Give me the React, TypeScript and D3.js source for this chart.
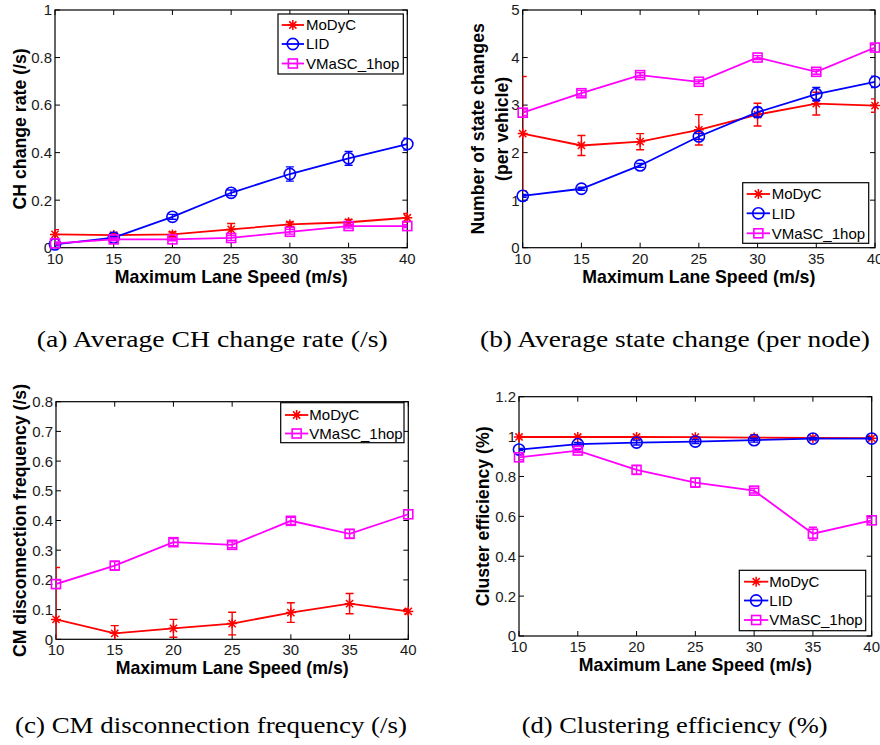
import React from 'react';
import * as d3 from 'd3';

// ---------- data ----------
const SPEEDS = [10, 15, 20, 25, 30, 35, 40];
const X_TICKS = [10, 15, 20, 25, 30, 35, 40];
const SERIES_NAMES = ['MoDyC', 'LID', 'VMaSC_1hop'];

// (a) Average CH change rate (/s)
const A_MODYC = [0.056, 0.053, 0.056, 0.077, 0.098, 0.107, 0.126];
const A_MODYC_ERR = [0.02, 0.01, 0.01, 0.025, 0.01, 0.012, 0.018];
const A_LID = [0.014, 0.042, 0.13, 0.231, 0.31, 0.376, 0.436];
const A_LID_ERR = [0.006, 0.006, 0.01, 0.012, 0.03, 0.029, 0.025];
const A_VMASC = [0.018, 0.035, 0.035, 0.041, 0.067, 0.091, 0.091];
const A_VMASC_ERR = [0.006, 0.006, 0.006, 0.01, 0.01, 0.008, 0.006];
const A_Y_TICKS = [0, 0.2, 0.4, 0.6, 0.8, 1];

// (b) Average state change (per node)
const B_MODYC = [2.4, 2.15, 2.23, 2.48, 2.8, 3.03, 2.99];
const B_MODYC_ERR = [1.2, 0.21, 0.17, 0.32, 0.24, 0.24, 0.14];
const B_LID = [1.09, 1.24, 1.73, 2.34, 2.85, 3.23, 3.49];
const B_LID_ERR = [0.03, 0.03, 0.04, 0.06, 0.1, 0.14, 0.12];
const B_VMASC = [2.84, 3.25, 3.63, 3.49, 4.0, 3.7, 4.21];
const B_VMASC_ERR = [0.06, 0.06, 0.05, 0.04, 0.04, 0.05, 0.06];
const B_Y_TICKS = [0, 1, 2, 3, 4, 5];

// (c) CM disconnection frequency (/s)
const C_MODYC = [0.067, 0.02, 0.037, 0.053, 0.09, 0.12, 0.094];
const C_MODYC_ERR = [0.175, 0.026, 0.03, 0.038, 0.033, 0.034, 0.008];
const C_VMASC = [0.186, 0.248, 0.327, 0.318, 0.399, 0.355, 0.421];
const C_VMASC_ERR = [0.015, 0.014, 0.012, 0.01, 0.012, 0.015, 0.015];
const C_Y_TICKS = [0, 0.1, 0.2, 0.3, 0.4, 0.5, 0.6, 0.7, 0.8];

// (d) Clustering efficiency (%)
const D_MODYC = [0.998, 0.998, 0.998, 0.997, 0.995, 0.993, 0.992];
const D_MODYC_ERR = [0.003, 0.003, 0.003, 0.003, 0.003, 0.003, 0.003];
const D_LID = [0.935, 0.962, 0.97, 0.975, 0.982, 0.99, 0.99];
const D_LID_ERR = [0.005, 0.008, 0.012, 0.01, 0.01, 0.006, 0.005];
const D_VMASC = [0.896, 0.93, 0.833, 0.769, 0.729, 0.513, 0.58];
const D_VMASC_ERR = [0.012, 0.01, 0.022, 0.022, 0.012, 0.032, 0.012];
const D_Y_TICKS = [0, 0.2, 0.4, 0.6, 0.8, 1, 1.2];

const CAPTIONS = [
  '(a) Average CH change rate (/s)',
  '(b) Average state change (per node)',
  '(c) CM disconnection frequency (/s)',
  '(d) Clustering efficiency (%)',
];
const X_LABEL = 'Maximum Lane Speed (m/s)';

// ---------- styles ----------
const RED = '#ff0000';
const BLUE = '#0000ff';
const MAGENTA = '#ff00ff';
const SANS = '"Liberation Sans", Arial, Helvetica, sans-serif';
const SERIF = '"Liberation Serif", "Times New Roman", serif';

type MarkerKind = 'star' | 'circle' | 'square';
type Series = { name: string; values: number[]; errors: number[]; color: string; marker: MarkerKind };

function Marker({ kind, x, y, color }: { kind: MarkerKind; x: number; y: number; color: string }) {
  if (kind === 'circle')
    return <circle cx={x} cy={y} r={5.6} fill="none" stroke={color} strokeWidth={1.6} />;
  if (kind === 'square')
    return <rect x={x - 4.5} y={y - 4.5} width={9} height={9} fill="none" stroke={color} strokeWidth={1.6} />;
  const a = 5, b = 3.6;
  return (
    <path
      d={`M${x - a},${y}H${x + a}M${x},${y - a}V${y + a}M${x - b},${y - b}L${x + b},${y + b}M${x - b},${y + b}L${x + b},${y - b}`}
      stroke={color}
      strokeWidth={1.5}
      fill="none"
    />
  );
}

type PanelProps = {
  id: string;
  box: { left: number; right: number; top: number; bottom: number };
  yDomain: [number, number];
  yTicks: number[];
  series: Series[];
  yLabel: { lines: string[]; xs: number[] };
  legend: { x: number; y: number; w: number; h: number; rows: number[]; lineX0: number; lineX1: number; textX: number };
};

function Panel({ id, box, yDomain, yTicks, series, yLabel, legend }: PanelProps) {
  const x = d3.scaleLinear().domain([10, 40]).range([box.left, box.right]);
  const y = d3.scaleLinear().domain(yDomain).range([box.bottom, box.top]);
  const tickLen = 5;
  const cy = (box.top + box.bottom) / 2;
  const cx = (box.left + box.right) / 2;
  return (
    <g>
      <defs>
        <clipPath id={id}>
          <rect x={box.left} y={box.top} width={box.right - box.left} height={box.bottom - box.top} />
        </clipPath>
      </defs>
      {/* axes box + ticks */}
      <rect x={box.left} y={box.top} width={box.right - box.left} height={box.bottom - box.top} fill="white" stroke="#000" strokeWidth={1.2} />
      {X_TICKS.map((t) => (
        <g key={'xt' + t}>
          <line x1={x(t)} x2={x(t)} y1={box.bottom} y2={box.bottom - tickLen} stroke="#000" strokeWidth={1} />
          <line x1={x(t)} x2={x(t)} y1={box.top} y2={box.top + tickLen} stroke="#000" strokeWidth={1} />
          <text x={x(t)} y={box.bottom + 16} textAnchor="middle" fontFamily={SANS} fontSize={15} fill="#1a1a1a">
            {t}
          </text>
        </g>
      ))}
      {yTicks.map((t) => (
        <g key={'yt' + t}>
          <line x1={box.left} x2={box.left + tickLen} y1={y(t)} y2={y(t)} stroke="#000" strokeWidth={1} />
          <line x1={box.right} x2={box.right - tickLen} y1={y(t)} y2={y(t)} stroke="#000" strokeWidth={1} />
          <text x={box.left - 3} y={y(t)} dy="0.36em" textAnchor="end" fontFamily={SANS} fontSize={15} fill="#1a1a1a">
            {String(t)}
          </text>
        </g>
      ))}
      {/* series */}
      {series.map((s) => {
        const line = d3
          .line<number>()
          .x((_, i) => x(SPEEDS[i]))
          .y((d) => y(d));
        return (
          <g key={s.name}>
            <g clipPath={`url(#${id})`}>
              <path d={line(s.values) || ''} fill="none" stroke={s.color} strokeWidth={1.8} />
              {s.values.map((v, i) => {
                const px = x(SPEEDS[i]);
                const y0 = y(v - s.errors[i]);
                const y1 = y(v + s.errors[i]);
                return (
                  <path
                    key={i}
                    d={`M${px},${y0}V${y1}M${px - 4},${y0}H${px + 4}M${px - 4},${y1}H${px + 4}`}
                    stroke={s.color}
                    strokeWidth={1.4}
                    fill="none"
                  />
                );
              })}
            </g>
            {s.values.map((v, i) => (
              <Marker key={'m' + i} kind={s.marker} x={x(SPEEDS[i])} y={y(v)} color={s.color} />
            ))}
          </g>
        );
      })}
      {/* legend */}
      <rect x={legend.x} y={legend.y} width={legend.w} height={legend.h} fill="white" stroke="#000" strokeWidth={1.2} />
      {series.map((s, i) => (
        <g key={'lg' + s.name}>
          <line x1={legend.lineX0} x2={legend.lineX1} y1={legend.rows[i]} y2={legend.rows[i]} stroke={s.color} strokeWidth={1.8} />
          <Marker kind={s.marker} x={(legend.lineX0 + legend.lineX1) / 2} y={legend.rows[i]} color={s.color} />
          <text x={legend.textX} y={legend.rows[i]} dy="0.36em" fontFamily={SANS} fontSize={15} fill="#000">
            {s.name}
          </text>
        </g>
      ))}
      {/* axis labels */}
      <text x={cx} y={box.bottom + 35} textAnchor="middle" fontFamily={SANS} fontWeight="bold" fontSize={17.7} fill="#000">
        {X_LABEL}
      </text>
      {yLabel.lines.map((l, i) => (
        <text
          key={l}
          transform={`translate(${yLabel.xs[i]},${cy}) rotate(-90)`}
          dy="0.36em"
          textAnchor="middle"
          fontFamily={SANS}
          fontWeight="bold"
          fontSize={17.7}
          fill="#000"
        >
          {l}
        </text>
      ))}
    </g>
  );
}

function mk(names: string[], vals: number[][], errs: number[][], colors: string[], markers: MarkerKind[]): Series[] {
  return names.map((n, i) => ({ name: n, values: vals[i], errors: errs[i], color: colors[i], marker: markers[i] }));
}

export default function App() {
  const seriesA = mk(SERIES_NAMES, [A_MODYC, A_LID, A_VMASC], [A_MODYC_ERR, A_LID_ERR, A_VMASC_ERR], [RED, BLUE, MAGENTA], ['star', 'circle', 'square']);
  const seriesB = mk(SERIES_NAMES, [B_MODYC, B_LID, B_VMASC], [B_MODYC_ERR, B_LID_ERR, B_VMASC_ERR], [RED, BLUE, MAGENTA], ['star', 'circle', 'square']);
  const seriesC = mk([SERIES_NAMES[0], SERIES_NAMES[2]], [C_MODYC, C_VMASC], [C_MODYC_ERR, C_VMASC_ERR], [RED, MAGENTA], ['star', 'square']);
  const seriesD = mk(SERIES_NAMES, [D_MODYC, D_LID, D_VMASC], [D_MODYC_ERR, D_LID_ERR, D_VMASC_ERR], [RED, BLUE, MAGENTA], ['star', 'circle', 'square']);

  return (
    <svg width={880} height={745} style={{ position: 'absolute', left: 0, top: 0, background: 'white' }}>
      <rect x={0} y={0} width={880} height={745} fill="white" />
      <Panel
        id="clipA"
        box={{ left: 55, right: 407.3, top: 10, bottom: 247.7 }}
        yDomain={[0, 1]}
        yTicks={A_Y_TICKS}
        series={seriesA}
        yLabel={{ lines: ['CH change rate (/s)'], xs: [20] }}
        legend={{ x: 278, y: 14, w: 125.3, h: 60, rows: [25, 44, 63.5], lineX0: 281.7, lineX1: 304, textX: 306 }}
      />
      <Panel
        id="clipB"
        box={{ left: 522.7, right: 875, top: 10, bottom: 247.7 }}
        yDomain={[0, 5]}
        yTicks={B_Y_TICKS}
        series={seriesB}
        yLabel={{ lines: ['Number of state changes', '(per vehicle)'], xs: [478, 502] }}
        legend={{ x: 742.7, y: 182.7, w: 126, h: 60.6, rows: [194, 213.3, 233.3], lineX0: 746.7, lineX1: 770, textX: 771.7 }}
      />
      <Panel
        id="clipC"
        box={{ left: 56, right: 408.3, top: 401.7, bottom: 639.3 }}
        yDomain={[0, 0.8]}
        yTicks={C_Y_TICKS}
        series={seriesC}
        yLabel={{ lines: ['CM disconnection frequency (/s)'], xs: [20] }}
        legend={{ x: 280.7, y: 402.7, w: 123.3, h: 40, rows: [415, 433.5], lineX0: 285, lineX1: 308.3, textX: 309.3 }}
      />
      <Panel
        id="clipD"
        box={{ left: 519, right: 871.7, top: 396.7, bottom: 636 }}
        yDomain={[0, 1.2]}
        yTicks={D_Y_TICKS}
        series={seriesD}
        yLabel={{ lines: ['Cluster efficiency (%)'], xs: [482.5] }}
        legend={{ x: 739.3, y: 570.3, w: 126.4, h: 60.4, rows: [581.7, 600.5, 620], lineX0: 744, lineX1: 768.3, textX: 769.3 }}
      />
      {/* captions */}
      <text x={36.7} y={347} fontFamily={SERIF} fontSize={23} textLength={351} lengthAdjust="spacingAndGlyphs" fill="#000">
        {CAPTIONS[0]}
      </text>
      <text x={480} y={347} fontFamily={SERIF} fontSize={23} textLength={390} lengthAdjust="spacingAndGlyphs" fill="#000">
        {CAPTIONS[1]}
      </text>
      <text x={15} y={733} fontFamily={SERIF} fontSize={23} textLength={392} lengthAdjust="spacingAndGlyphs" fill="#000">
        {CAPTIONS[2]}
      </text>
      <text x={521.7} y={733} fontFamily={SERIF} fontSize={23} textLength={306} lengthAdjust="spacingAndGlyphs" fill="#000">
        {CAPTIONS[3]}
      </text>
    </svg>
  );
}
